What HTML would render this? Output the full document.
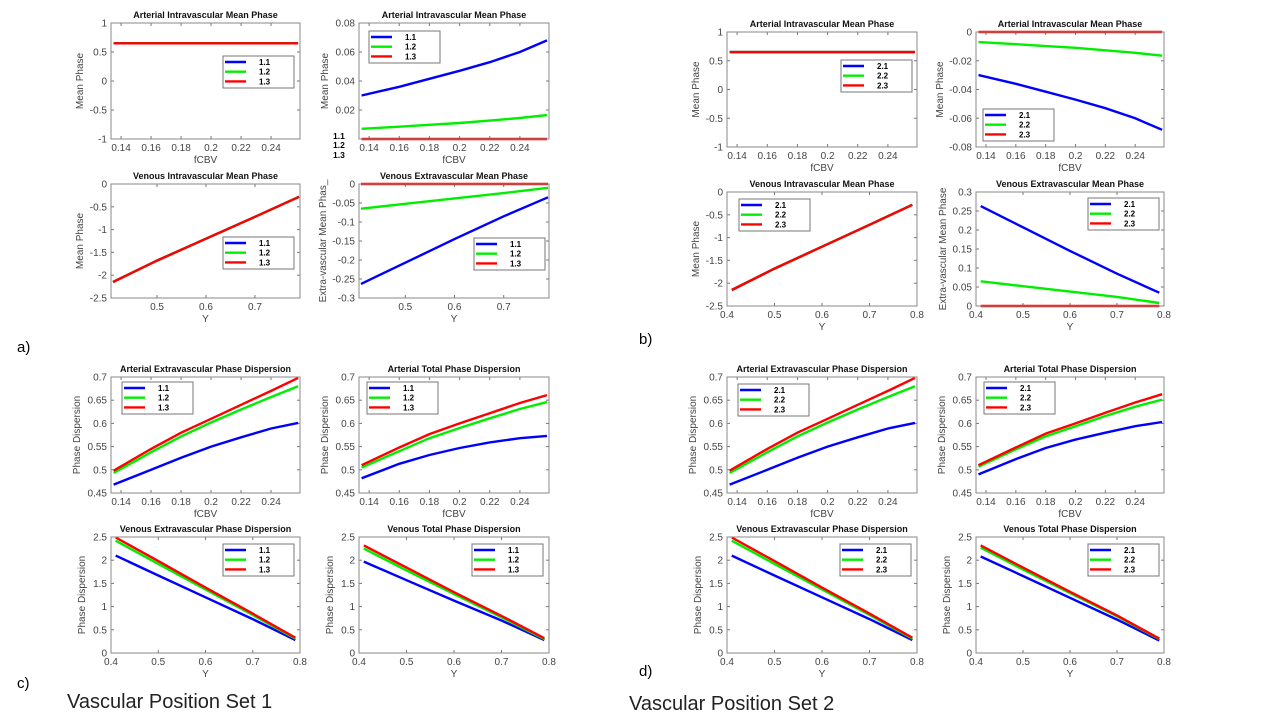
<!DOCTYPE html>
<html><head><meta charset="utf-8">
<style>
html,body{margin:0;padding:0;background:#fff;}
svg{display:block;font-family:"Liberation Sans",sans-serif;}
</style></head>
<body>
<svg id="fig" width="1280" height="720" viewBox="0 0 1280 720">
<text x="17" y="352" font-size="15" fill="#000">a)</text>
<text x="639" y="344" font-size="15" fill="#000">b)</text>
<text x="17" y="688" font-size="15" fill="#000">c)</text>
<text x="639" y="676" font-size="15" fill="#000">d)</text>
<text x="67" y="708" font-size="20" fill="#222">Vascular Position Set 1</text>
<text x="629" y="710" font-size="20" fill="#222">Vascular Position Set 2</text>
<text x="333" y="139" font-size="8.5" font-weight="bold" fill="#000">1.1</text>
<text x="333" y="148" font-size="8.5" font-weight="bold" fill="#000">1.2</text>
<text x="333" y="158" font-size="8.5" font-weight="bold" fill="#000">1.3</text>
</svg>
<script>
// ---- data ----
const fcbvX = [0.135, 0.16, 0.18, 0.2, 0.22, 0.24, 0.258];
const oxyX = [0.41, 0.5, 0.6, 0.7, 0.79];
const flatX = [0.135, 0.258];

const aivFlat = [0.65, 0.65];
const a2Blue = [0.030, 0.036, 0.0415, 0.047, 0.053, 0.060, 0.068];
const a2Green = [0.007, 0.0085, 0.0098, 0.011, 0.0127, 0.0145, 0.0165];
const a2Red = [0, 0, 0, 0, 0, 0, 0];
const vivRed = [-2.15, -1.68, -1.2, -0.72, -0.28];
const a4Blue = [-0.263, -0.207, -0.145, -0.085, -0.035];
const a4Green = [-0.065, -0.052, -0.038, -0.024, -0.01];
const zeroOxy = [0, 0, 0, 0, 0];
const b2Blue = [-0.030, -0.036, -0.0415, -0.047, -0.053, -0.060, -0.068];
const b2Green = [-0.007, -0.0085, -0.0098, -0.011, -0.0127, -0.0145, -0.0165];
const b4Blue = [0.263, 0.207, 0.145, 0.085, 0.035];
const b4Green = [0.065, 0.052, 0.038, 0.024, 0.008];
const aevBlue = [0.468, 0.5, 0.526, 0.55, 0.57, 0.589, 0.601];
const aevGreen = [0.493, 0.538, 0.572, 0.602, 0.63, 0.657, 0.68];
const aevRed = [0.498, 0.545, 0.58, 0.61, 0.64, 0.67, 0.698];
const c2Blue = [0.482, 0.513, 0.532, 0.547, 0.559, 0.568, 0.573];
const c2Green = [0.505, 0.54, 0.568, 0.59, 0.611, 0.631, 0.646];
const c2Red = [0.51, 0.548, 0.577, 0.6, 0.622, 0.644, 0.661];
const vevBlue = [2.1, 1.67, 1.2, 0.73, 0.28];
const vevGreen = [2.42, 1.92, 1.37, 0.82, 0.31];
const vevRed = [2.49, 1.98, 1.41, 0.85, 0.33];
const c4Blue = [1.97, 1.57, 1.13, 0.70, 0.28];
const c4Green = [2.25, 1.78, 1.27, 0.77, 0.30];
const c4Red = [2.32, 1.84, 1.31, 0.80, 0.32];
const d2Blue = [0.49, 0.523, 0.547, 0.565, 0.58, 0.594, 0.603];
const d2Green = [0.507, 0.544, 0.572, 0.594, 0.616, 0.636, 0.651];
const d2Red = [0.51, 0.548, 0.578, 0.6, 0.623, 0.645, 0.663];
const d4Blue = [2.08, 1.66, 1.19, 0.72, 0.27];
const d4Green = [2.27, 1.80, 1.29, 0.79, 0.30];
const d4Red = [2.32, 1.84, 1.32, 0.81, 0.31];

const fcbvTicks = ['0.14', '0.16', '0.18', '0.2', '0.22', '0.24'];
const oxyTicksA = ['0.5', '0.6', '0.7'];
const oxyTicks = ['0.4', '0.5', '0.6', '0.7', '0.8'];
const ytMean1 = ['-1', '-0.5', '0', '0.5', '1'];
const ytA2 = ['0.02', '0.04', '0.06', '0.08'];
const ytB2 = ['-0.08', '-0.06', '-0.04', '-0.02', '0'];
const ytVIV = ['-2.5', '-2', '-1.5', '-1', '-0.5', '0'];
const ytA4 = ['-0.3', '-0.25', '-0.2', '-0.15', '-0.1', '-0.05', '0'];
const ytB4 = ['0', '0.05', '0.1', '0.15', '0.2', '0.25', '0.3'];
const ytDisp = ['0.45', '0.5', '0.55', '0.6', '0.65', '0.7'];
const ytVDisp = ['0', '0.5', '1', '1.5', '2', '2.5'];
const legA = ['1.1', '1.2', '1.3'];
const legB = ['2.1', '2.2', '2.3'];

const COLORS = ['#0000ff', '#00ee00', '#ff0000'];
const NS = 'http://www.w3.org/2000/svg';
const svg = document.getElementById('fig');
const FD = [0.1333, 0.2593], OD = [0.4, 0.8], ODA = [0.406, 0.792];

function el(tag, attrs, parent) {
  const e = document.createElementNS(NS, tag);
  for (const k in attrs) e.setAttribute(k, attrs[k]);
  parent.appendChild(e);
  return e;
}

function plot(c) {
  const g = el('g', {}, svg);
  
  
  const [x0, y0, x1, y1] = c.box;
  const sx = v => x0 + (v - c.xd[0]) / (c.xd[1] - c.xd[0]) * (x1 - x0);
  const sy = v => y1 - (v - c.yd[0]) / (c.yd[1] - c.yd[0]) * (y1 - y0);
  el('rect', {x: x0, y: y0, width: x1 - x0, height: y1 - y0, fill: '#fff'}, g);
  const t = el('text', {x: (x0 + x1) / 2, y: y0 - 5, 'font-size': 9, 'font-weight': 'bold', 'text-anchor': 'middle', fill: '#111'}, g);
  t.textContent = c.title;
  
  
  c.xt.forEach(s => {
    const v = parseFloat(s), X = sx(v);
    el('line', {x1: X, y1: y1, x2: X, y2: y1 - 3, stroke: '#777'}, g);
    el('line', {x1: X, y1: y0, x2: X, y2: y0 + 3, stroke: '#777'}, g);
    const tl = el('text', {x: X, y: y1 + 12, 'font-size': 10, 'text-anchor': 'middle', fill: '#444'}, g);
    tl.textContent = s;
    
    
  });
  c.yt.forEach(s => {
    const v = parseFloat(s), Y = sy(v);
    el('line', {x1: x0, y1: Y, x2: x0 + 3, y2: Y, stroke: '#777'}, g);
    el('line', {x1: x1, y1: Y, x2: x1 - 3, y2: Y, stroke: '#777'}, g);
    const tl = el('text', {x: x0 - 4, y: Y + 3.5, 'font-size': 10, 'text-anchor': 'end', fill: '#444'}, g);
    tl.textContent = s;
    
    
  });
  const xl = el('text', {x: (x0 + x1) / 2, y: y1 + 24, 'font-size': 10, 'text-anchor': 'middle', fill: '#444'}, g);
  xl.textContent = c.xl;
  
  
  const yx = x0 - c.ylo, yc = (y0 + y1) / 2;
  const yl = el('text', {x: yx, y: yc, 'font-size': 10, 'text-anchor': 'middle', fill: '#444', transform: `rotate(-90 ${yx} ${yc})`}, g);
  yl.textContent = c.yl;
  
  
  c.series.forEach((ys, i) => {
    const xs = Array.isArray(c.xs[0]) ? c.xs[i] : c.xs;
    const pts = ys.map((v, j) => sx(xs[j]).toFixed(1) + ',' + sy(v).toFixed(1)).join(' ');
    const pl = el('polyline', {points: pts, fill: 'none', stroke: COLORS[i], 'stroke-width': 2.4}, g);
    
    
  });
  el('rect', {x: x0, y: y0, width: x1 - x0, height: y1 - y0, fill: 'none', stroke: '#888', 'stroke-width': 1}, g);
  const [lx, ly] = c.legPos;
  const lg = el('g', {}, g);
  
  
  el('rect', {x: lx, y: ly, width: 71, height: 32, fill: '#fff', stroke: '#777'}, lg);
  c.leg.forEach((s, i) => {
    const Y = ly + 6 + i * 9.7;
    const ln = el('line', {x1: lx + 2, y1: Y, x2: lx + 23, y2: Y, stroke: COLORS[i], 'stroke-width': 2.4}, lg);
    
    
    const lt = el('text', {x: lx + 36, y: Y + 3, 'font-size': 8, 'font-weight': 'bold', fill: '#000'}, lg);
    lt.textContent = s;
    
    
  });
}

const T1 = 'Arterial Intravascular Mean Phase', T3 = 'Venous Intravascular Mean Phase', T4 = 'Venous Extravascular Mean Phase';
const plots = [
  {name: 'a-arterial-iv-mean', box: [111, 23, 300, 139], xd: FD, yd: [-1, 1], xt: fcbvTicks, yt: ytMean1, title: T1, xl: 'fCBV', yl: 'Mean Phase', ylo: 28, xs: [flatX, flatX, flatX], series: [aivFlat, aivFlat, aivFlat], leg: legA, legPos: [223, 56]},
  {name: 'a-arterial-iv-mean-2', box: [359, 23, 549, 139], xd: FD, yd: [0, 0.08], xt: fcbvTicks, yt: ytA2, title: T1, xl: 'fCBV', yl: 'Mean Phase', ylo: 31, xs: fcbvX, series: [a2Blue, a2Green, a2Red], leg: legA, legPos: [369, 31]},
  {name: 'a-venous-iv-mean', box: [111, 184, 300, 298], xd: ODA, yd: [-2.5, 0], xt: oxyTicksA, yt: ytVIV, title: T3, xl: 'Y', yl: 'Mean Phase', ylo: 28, xs: oxyX, series: [vivRed, vivRed, vivRed], leg: legA, legPos: [223, 237]},
  {name: 'a-venous-ev-mean', box: [359, 184, 549, 298], xd: ODA, yd: [-0.3, 0], xt: oxyTicksA, yt: ytA4, title: T4, xl: 'Y', yl: 'Extra-vascular Mean Phas_', ylo: 33, xs: oxyX, series: [a4Blue, a4Green, zeroOxy], leg: legA, legPos: [474, 238]},
  {name: 'b-arterial-iv-mean', box: [727, 32, 917, 147], xd: FD, yd: [-1, 1], xt: fcbvTicks, yt: ytMean1, title: T1, xl: 'fCBV', yl: 'Mean Phase', ylo: 28, xs: [flatX, flatX, flatX], series: [aivFlat, aivFlat, aivFlat], leg: legB, legPos: [841, 60]},
  {name: 'b-arterial-iv-mean-2', box: [976, 32, 1164, 147], xd: FD, yd: [-0.08, 0], xt: fcbvTicks, yt: ytB2, title: T1, xl: 'fCBV', yl: 'Mean Phase', ylo: 33, xs: fcbvX, series: [b2Blue, b2Green, a2Red], leg: legB, legPos: [983, 109]},
  {name: 'b-venous-iv-mean', box: [727, 192, 917, 306], xd: OD, yd: [-2.5, 0], xt: oxyTicks, yt: ytVIV, title: T3, xl: 'Y', yl: 'Mean Phase', ylo: 28, xs: oxyX, series: [vivRed, vivRed, vivRed], leg: legB, legPos: [739, 199]},
  {name: 'b-venous-ev-mean', box: [976, 192, 1164, 306], xd: OD, yd: [0, 0.3], xt: oxyTicks, yt: ytB4, title: T4, xl: 'Y', yl: 'Extra-vascular Mean Phase', ylo: 30, xs: oxyX, series: [b4Blue, b4Green, zeroOxy], leg: legB, legPos: [1088, 198]},
  {name: 'c-arterial-ev-dispersion', box: [111, 377, 300, 493], xd: FD, yd: [0.45, 0.7], xt: fcbvTicks, yt: ytDisp, title: 'Arterial Extravascular Phase Dispersion', xl: 'fCBV', yl: 'Phase Dispersion', ylo: 31, xs: fcbvX, series: [aevBlue, aevGreen, aevRed], leg: legA, legPos: [122, 382]},
  {name: 'c-arterial-total-dispersion', box: [359, 377, 549, 493], xd: FD, yd: [0.45, 0.7], xt: fcbvTicks, yt: ytDisp, title: 'Arterial Total Phase Dispersion', xl: 'fCBV', yl: 'Phase Dispersion', ylo: 31, xs: fcbvX, series: [c2Blue, c2Green, c2Red], leg: legA, legPos: [367, 382]},
  {name: 'c-venous-ev-dispersion', box: [111, 537, 300, 653], xd: OD, yd: [0, 2.5], xt: oxyTicks, yt: ytVDisp, title: 'Venous Extravascular Phase Dispersion', xl: 'Y', yl: 'Phase Dispersion', ylo: 26, xs: oxyX, series: [vevBlue, vevGreen, vevRed], leg: legA, legPos: [223, 544]},
  {name: 'c-venous-total-dispersion', box: [359, 537, 549, 653], xd: OD, yd: [0, 2.5], xt: oxyTicks, yt: ytVDisp, title: 'Venous Total Phase Dispersion', xl: 'Y', yl: 'Phase Dispersion', ylo: 26, xs: oxyX, series: [c4Blue, c4Green, c4Red], leg: legA, legPos: [472, 544]},
  {name: 'd-arterial-ev-dispersion', box: [727, 377, 917, 493], xd: FD, yd: [0.45, 0.7], xt: fcbvTicks, yt: ytDisp, title: 'Arterial Extravascular Phase Dispersion', xl: 'fCBV', yl: 'Phase Dispersion', ylo: 31, xs: fcbvX, series: [aevBlue, aevGreen, aevRed], leg: legB, legPos: [738, 384]},
  {name: 'd-arterial-total-dispersion', box: [976, 377, 1164, 493], xd: FD, yd: [0.45, 0.7], xt: fcbvTicks, yt: ytDisp, title: 'Arterial Total Phase Dispersion', xl: 'fCBV', yl: 'Phase Dispersion', ylo: 31, xs: fcbvX, series: [d2Blue, d2Green, d2Red], leg: legB, legPos: [984, 382]},
  {name: 'd-venous-ev-dispersion', box: [727, 537, 917, 653], xd: OD, yd: [0, 2.5], xt: oxyTicks, yt: ytVDisp, title: 'Venous Extravascular Phase Dispersion', xl: 'Y', yl: 'Phase Dispersion', ylo: 26, xs: oxyX, series: [vevBlue, vevGreen, vevRed], leg: legB, legPos: [840, 544]},
  {name: 'd-venous-total-dispersion', box: [976, 537, 1164, 653], xd: OD, yd: [0, 2.5], xt: oxyTicks, yt: ytVDisp, title: 'Venous Total Phase Dispersion', xl: 'Y', yl: 'Phase Dispersion', ylo: 26, xs: oxyX, series: [d4Blue, d4Green, d4Red], leg: legB, legPos: [1088, 544]}
];
plots.forEach(plot);
</script>
</body></html>
